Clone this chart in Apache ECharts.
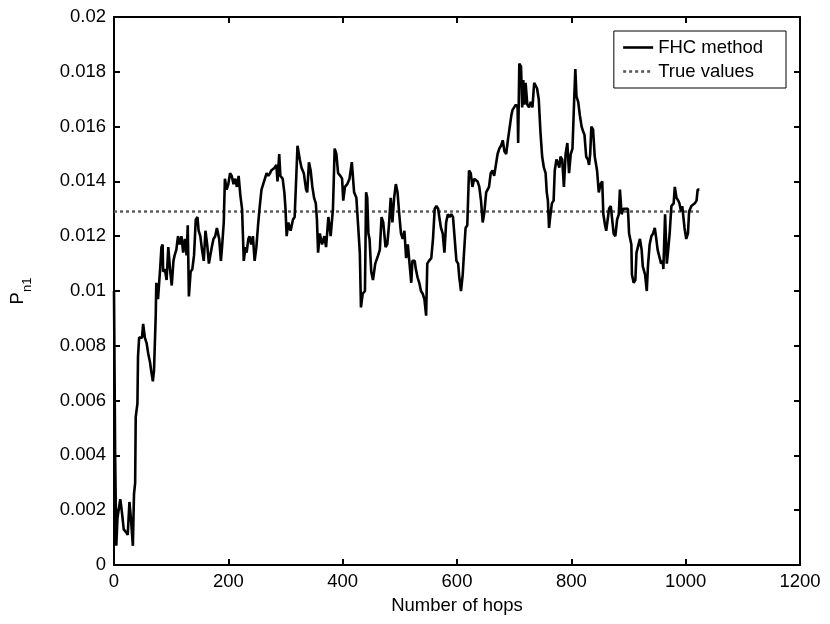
<!DOCTYPE html>
<html>
<head>
<meta charset="utf-8">
<script src="https://cdn.jsdelivr.net/npm/echarts@6/dist/echarts.min.js"></script>
<style>
  html, body { margin: 0; background: #fff; }
  #chart { width: 830px; height: 624px; }
</style>
</head>
<body>
<div id="chart"></div>
<script>
// FHC estimate of P_n1 against number of hops
const fhc = [
  [0,0.0100],[1,0.0070],[2,0.0040],[4,0.0007],[6,0.0017],[8,0.0020],[11,0.0024],[14,0.0019],
  [17,0.0013],[21,0.0012],[24,0.0011],[27,0.0023],[30,0.0016],[33,0.0007],[35,0.0026],[37,0.0030],
  [38,0.0054],[41,0.0059],[42,0.0076],[44,0.0083],[49,0.0083],[51,0.0088],[54,0.0083],[57,0.0081],
  [60,0.0077],[63,0.0074],[65,0.0071],[68,0.0067],[70,0.0071],[73,0.0091],[74,0.0103],[77,0.0097],
  [79,0.0103],[81,0.0109],[83,0.0116],[85,0.0117],[86,0.0107],[89,0.0108],[92,0.0104],[95,0.0116],
  [98,0.0108],[101,0.0102],[104,0.0111],[106,0.0113],[109,0.0115],[112,0.0120],[115,0.0117],[118,0.0120],
  [121,0.0114],[124,0.0119],[127,0.0113],[129,0.0124],[131,0.0098],[134,0.0107],[137,0.0108],[140,0.0113],
  [143,0.0126],[146,0.0127],[148,0.0122],[151,0.0120],[154,0.0115],[157,0.0111],[160,0.0122],[163,0.0117],
  [166,0.0110],[171,0.0116],[174,0.0119],[177,0.0120],[180,0.0123],[184,0.0119],[187,0.0111],[189,0.0116],
  [192,0.0125],[194,0.0141],[197,0.0137],[200,0.0139],[203,0.0143],[206,0.0142],[209,0.0139],[212,0.0141],
  [215,0.0138],[218,0.0142],[221,0.0135],[224,0.0130],[227,0.0111],[230,0.0116],[232,0.0114],[235,0.0119],
  [237,0.0120],[240,0.0117],[243,0.0120],[246,0.0111],[249,0.0116],[252,0.0124],[255,0.0131],[258,0.0137],
  [261,0.0139],[264,0.0141],[267,0.0143],[270,0.0142],[273,0.0143],[275,0.0144],[278,0.0144],[281,0.0145],
  [284,0.0146],[286,0.0140],[289,0.0150],[291,0.0142],[295,0.0141],[298,0.0136],[300,0.0130],[302,0.0120],
  [305,0.0125],[309,0.0122],[313,0.0126],[316,0.0127],[319,0.0127],[321,0.0153],[325,0.0148],[328,0.0145],
  [332,0.0143],[336,0.0137],[338,0.0136],[341,0.0147],[344,0.0144],[347,0.0138],[350,0.0134],[353,0.0132],
  [355,0.0126],[357,0.0114],[360,0.0121],[364,0.0117],[368,0.0120],[371,0.0116],[375,0.0127],[379,0.0120],
  [383,0.0130],[386,0.0152],[389,0.0150],[392,0.0143],[396,0.0142],[399,0.0141],[401,0.0133],[404,0.0138],
  [408,0.0139],[412,0.0141],[416,0.0147],[420,0.0136],[424,0.0134],[427,0.0124],[430,0.0114],[432,0.0094],
  [435,0.0099],[439,0.0100],[441,0.0136],[443,0.0134],[445,0.0121],[447,0.0119],[450,0.0107],[453,0.0104],
  [457,0.0110],[462,0.0113],[465,0.0115],[468,0.0127],[471,0.0125],[475,0.0116],[478,0.0117],[481,0.0124],
  [484,0.0134],[487,0.0125],[490,0.0134],[493,0.0139],[496,0.0136],[499,0.0128],[502,0.0121],[505,0.0119],
  [508,0.0122],[511,0.0112],[514,0.0117],[517,0.0110],[520,0.0103],[522,0.0111],[526,0.0111],[528,0.0108],
  [531,0.0105],[534,0.0103],[537,0.0100],[540,0.0099],[543,0.0097],[546,0.0091],[548,0.0110],[551,0.0111],
  [555,0.0112],[558,0.0119],[561,0.0130],[564,0.0131],[567,0.0130],[569,0.0127],[572,0.0123],[575,0.0121],
  [578,0.0114],[581,0.0125],[584,0.0128],[587,0.0127],[590,0.0128],[593,0.0127],[596,0.0127],[599,0.0111],
  [602,0.0110],[604,0.0105],[607,0.0100],[610,0.0106],[612,0.0113],[615,0.0123],[618,0.0124],[621,0.0144],
  [624,0.0143],[627,0.0138],[630,0.0141],[633,0.0141],[636,0.0140],[639,0.0138],[642,0.0133],[645,0.0125],
  [648,0.0129],[651,0.0136],[653,0.0136],[656,0.0138],[659,0.0143],[662,0.0144],[665,0.0142],[668,0.0142],
  [671,0.0150],[674,0.0152],[677,0.0153],[680,0.0155],[683,0.0151],[686,0.0150],[689,0.0155],[692,0.0155],
  [695,0.0164],[697,0.0166],[700,0.0167],[703,0.0168],[706,0.0167],[707,0.0154],[709,0.0183],[712,0.0182],
  [714,0.0167],[716,0.0177],[718,0.0168],[720,0.0176],[723,0.0168],[726,0.0167],[729,0.0169],[732,0.0167],
  [735,0.0176],[737,0.0176],[740,0.0174],[743,0.0170],[746,0.0158],[749,0.0149],[752,0.0145],[755,0.0143],
  [757,0.0136],[759,0.0133],[761,0.0123],[763,0.0127],[766,0.0132],[769,0.0133],[771,0.0144],[774,0.0148],
  [776,0.0147],[779,0.0145],[781,0.0149],[784,0.0148],[787,0.0138],[790,0.0150],[793,0.0154],[796,0.0143],
  [799,0.0150],[802,0.0152],[805,0.0170],[807,0.0181],[809,0.0171],[812,0.0169],[815,0.0164],[818,0.0160],
  [821,0.0158],[823,0.0157],[826,0.0149],[829,0.0148],[831,0.0146],[833,0.0150],[835,0.0160],[838,0.0159],
  [841,0.0149],[845,0.0144],[848,0.0136],[851,0.0139],[854,0.0140],[856,0.0128],[859,0.0124],[861,0.0122],
  [863,0.0122],[866,0.0130],[869,0.0131],[871,0.0127],[874,0.0121],[877,0.0120],[880,0.0126],[883,0.0128],
  [885,0.0137],[888,0.0128],[891,0.0130],[895,0.0130],[899,0.0130],[901,0.0121],[905,0.0117],[906,0.0106],
  [909,0.0103],[912,0.0104],[914,0.0114],[917,0.0114],[920,0.0119],[923,0.0115],[925,0.0109],[929,0.0106],
  [932,0.0100],[934,0.0109],[937,0.0117],[940,0.0120],[943,0.0121],[946,0.0123],[948,0.0120],[951,0.0115],
  [954,0.0115],[957,0.0110],[960,0.0111],[961,0.0108],[964,0.0128],[967,0.0110],[969,0.0114],[972,0.0121],
  [975,0.0131],[979,0.0132],[981,0.0138],[984,0.0134],[987,0.0133],[989,0.0132],[992,0.0129],[994,0.0131],
  [998,0.0123],[1001,0.0119],[1004,0.0121],[1006,0.0129],[1010,0.0131],[1013,0.0131],[1016,0.0132],
  [1019,0.0133],[1021,0.0137],[1024,0.0137]
];

const trueValue = 0.0129;
const trueHops = [0, 1024];

const xTicks = { min: 0, max: 1200, interval: 200 };
const yTicks = { min: 0, max: 0.02, interval: 0.002 };

const font = "Liberation Sans";
const fs = 18.5;

const chart = echarts.init(document.getElementById("chart"));

const frame = {
  axisLine: { show: true, onZero: false, lineStyle: { color: "#000", width: 2 } },
  axisTick: { show: true, inside: true, length: 6, lineStyle: { color: "#000", width: 2 } },
  splitLine: { show: false },
};

chart.setOption({
  animation: false,
  backgroundColor: "#fff",
  grid: { left: 112, right: 30, top: 17, bottom: 59 },
  legend: {
    orient: "vertical",
    right: 44,
    top: 31,
    padding: [7, 23, 7, 8],
    itemGap: 5,
    itemWidth: 30,
    itemHeight: 16,
    borderColor: "#000",
    borderWidth: 1,
    backgroundColor: "#fff",
    itemStyle: { opacity: 0 },
    lineStyle: { width: 2.6 },
    textStyle: { fontFamily: font, fontSize: fs, color: "#000" },
    data: ["FHC method", "True values"],
  },
  xAxis: [
    {
      type: "value",
      ...xTicks,
      ...frame,
      name: "Number of hops",
      nameLocation: "middle",
      nameGap: 31,
      nameTextStyle: { fontFamily: font, fontSize: fs, color: "#000" },
      axisLabel: { fontFamily: font, fontSize: fs, color: "#000", margin: 7, formatter: (v) => String(v) },
    },
    {
      type: "value",
      position: "top",
      ...xTicks,
      ...frame,
      axisLabel: { show: false },
    },
  ],
  yAxis: [
    {
      type: "value",
      ...yTicks,
      ...frame,
      name: "{p|P}{s|n1}",
      nameLocation: "middle",
      nameRotate: 90,
      nameGap: 80,
      nameTextStyle: {
        fontFamily: font,
        color: "#000",
        rich: {
          p: { fontFamily: font, fontSize: fs, lineHeight: 19, verticalAlign: "top", color: "#000" },
          s: { fontFamily: font, fontSize: 13, lineHeight: 26, verticalAlign: "bottom", color: "#000" },
        },
      },
      axisLabel: {
        fontFamily: font,
        fontSize: fs,
        color: "#000",
        margin: 8,
        formatter: (v) => String(+v.toFixed(3)),
      },
    },
    {
      type: "value",
      position: "right",
      ...yTicks,
      ...frame,
      axisLabel: { show: false },
    },
  ],
  series: [
    {
      name: "FHC method",
      type: "line",
      data: fhc,
      symbol: "none",
      lineStyle: { color: "#000", width: 2.6 },
      itemStyle: { color: "#000" },
      z: 3,
    },
    {
      name: "True values",
      type: "line",
      data: trueHops.map((h) => [h, trueValue]),
      symbol: "none",
      lineStyle: { color: "#5a5a5a", width: 2.4, type: [3, 3] },
      itemStyle: { color: "#5a5a5a" },
      z: 2,
    },
  ],
});
</script>
</body>
</html>
